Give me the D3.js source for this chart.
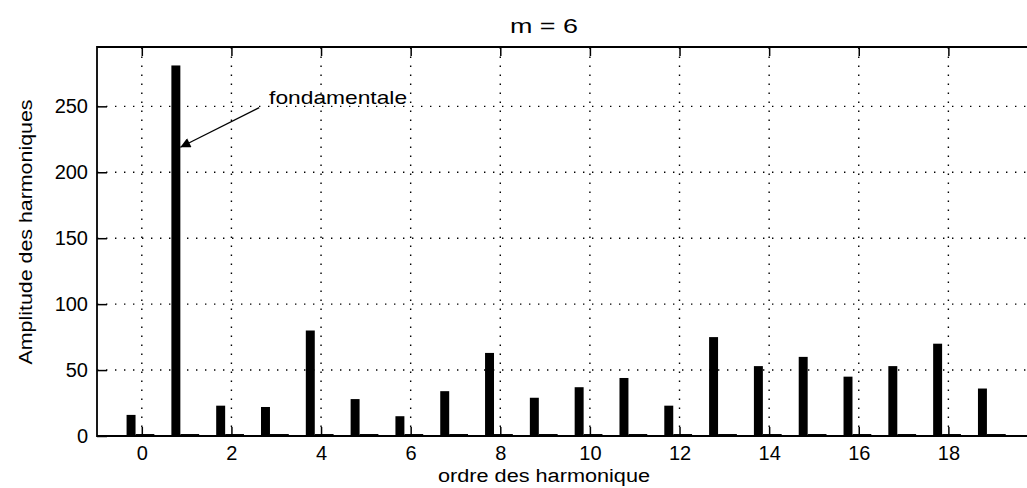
<!DOCTYPE html>
<html>
<head>
<meta charset="utf-8">
<script src="https://cdn.jsdelivr.net/npm/d3@7"></script>
<style>
  body { margin: 0; background: #fff; }
  svg { display: block; font-family: "Liberation Sans", Arial, sans-serif; }
</style>
</head>
<body>
<svg width="1027" height="488"></svg>
<script>
// harmonic order and amplitude (m = 6)
var harmonics = [0, 1, 2, 3, 4, 5, 6, 7, 8, 9, 10, 11, 12, 13, 14, 15, 16, 17, 18, 19];
var amplitudes = [16, 281, 23, 22, 80, 28, 15, 34, 63, 29, 37, 44, 23, 75, 53, 60, 45, 53, 70, 36];
// second (tiny) series sitting next to each bar
var residual = [1.5, 1.5, 1.5, 1.5, 1.5, 1.5, 1.5, 1.5, 1.5, 1.5, 1.5, 1.5, 1.5, 1.5, 1.5, 1.5, 1.5, 1.5, 1.5, 1.5];
var xTicks = [0, 2, 4, 6, 8, 10, 12, 14, 16, 18];
var yTicks = [0, 50, 100, 150, 200, 250];
var note = {text: "fondamentale", from: [2.62, 249], to: [0.86, 219], at: [2.84, 252]};

function drawPlot() {
	var svg = d3.select("svg");
	var margin = {left: 97, top: 47, right: -11, bottom: 52};
	var width = svg.attr("width") - margin.left - margin.right,
		height = svg.attr("height") - margin.top - margin.bottom;

	var x = d3.scaleLinear().domain([-1, 20]).range([margin.left, margin.left + width]);
	var y = d3.scaleLinear().domain([0, 295]).range([margin.top + height, margin.top]);
	var barW = x(0.1) - x(-0.1);

	// dotted grid
	var grid = svg.append("g")
		.attr("stroke", "#000")
		.attr("stroke-width", 1.4)
		.attr("stroke-dasharray", "1.4,7.6");
	grid.selectAll("line.v").data(xTicks)
		.enter().append("line")
		.attr("x1", d => x(d)).attr("x2", d => x(d))
		.attr("y1", y.range()[0]).attr("y2", y.range()[1]);
	grid.selectAll("line.h").data(yTicks.slice(1))
		.enter().append("line")
		.attr("x1", x.range()[0]).attr("x2", x.range()[1])
		.attr("y1", d => y(d)).attr("y2", d => y(d));

	// bars
	svg.append("g").selectAll("rect").data(harmonics)
		.enter().append("rect")
		.attr("x", (d, i) => x(d - 0.24) - barW / 2)
		.attr("y", (d, i) => y(amplitudes[i]))
		.attr("width", barW)
		.attr("height", (d, i) => y(0) - y(amplitudes[i]))
		.attr("fill", "#000");
	svg.append("g").selectAll("rect").data(harmonics)
		.enter().append("rect")
		.attr("x", d => x(d - 0.14))
		.attr("y", (d, i) => y(residual[i]))
		.attr("width", x(0.42) - x(0))
		.attr("height", (d, i) => y(0) - y(residual[i]))
		.attr("fill", "#000");

	// axes, ticks pointing inward
	var axisStyle = function(g) {
		g.select(".domain").remove();
		g.selectAll("line").attr("stroke", "#000").attr("stroke-width", 1.5);
		g.selectAll("text").attr("fill", "#000").style("font-size", "20px");
	};
	svg.append("g")
		.attr("transform", "translate(0," + y(0) + ")")
		.call(d3.axisBottom(x).tickValues(xTicks).tickSizeInner(-9).tickPadding(10))
		.call(axisStyle);
	svg.append("g")
		.attr("transform", "translate(0," + y.range()[1] + ")")
		.call(d3.axisTop(x).tickValues(xTicks).tickSizeInner(-9).tickFormat(""))
		.call(axisStyle);
	svg.append("g")
		.attr("transform", "translate(" + x.range()[0] + ",0)")
		.call(d3.axisLeft(y).tickValues(yTicks).tickSizeInner(-10).tickPadding(9))
		.call(axisStyle);

	// box
	svg.append("path")
		.attr("d", "M" + x.range()[1] + "," + y.range()[1] + "H" + x.range()[0] + "V" + y.range()[0] + "H" + x.range()[1])
		.attr("fill", "none").attr("stroke", "#000").attr("stroke-width", 1.8);

	// annotation arrow
	svg.append("defs").append("marker")
		.attr("id", "head").attr("viewBox", "0 0 10 10")
		.attr("refX", 10).attr("refY", 5)
		.attr("markerWidth", 14).attr("markerHeight", 10)
		.attr("markerUnits", "userSpaceOnUse")
		.attr("orient", "auto")
		.append("path").attr("d", "M0,0L10,5L0,10z").attr("fill", "#000");
	svg.append("line")
		.attr("x1", x(note.from[0])).attr("y1", y(note.from[1]))
		.attr("x2", x(note.to[0])).attr("y2", y(note.to[1]))
		.attr("stroke", "#000").attr("stroke-width", 1.2)
		.attr("marker-end", "url(#head)");
	svg.append("text")
		.attr("x", x(note.at[0])).attr("y", y(note.at[1]))
		.attr("textLength", 138).attr("lengthAdjust", "spacingAndGlyphs")
		.style("font-size", "19px")
		.text(note.text);

	// titles
	svg.append("text")
		.attr("x", 544).attr("y", 33)
		.attr("text-anchor", "middle")
		.attr("textLength", 68).attr("lengthAdjust", "spacingAndGlyphs")
		.style("font-size", "20px")
		.text("m = 6");
	svg.append("text")
		.attr("x", 544).attr("y", 482)
		.attr("text-anchor", "middle")
		.attr("textLength", 212).attr("lengthAdjust", "spacingAndGlyphs")
		.style("font-size", "18px")
		.text("ordre des harmonique");
	svg.append("text")
		.attr("transform", "translate(32,232)rotate(-90)")
		.attr("text-anchor", "middle")
		.attr("textLength", 265).attr("lengthAdjust", "spacingAndGlyphs")
		.style("font-size", "19px")
		.text("Amplitude des harmoniques");
}
drawPlot();
</script>
</body>
</html>
